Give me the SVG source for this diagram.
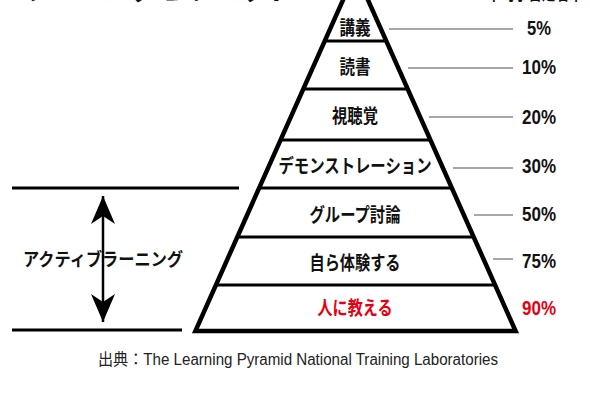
<svg xmlns="http://www.w3.org/2000/svg" width="590" height="394" viewBox="0 0 590 394">
<style>
.lbl{font-family:"Noto Sans CJK JP","Noto Sans",sans-serif;font-weight:700;font-size:19px;fill:#111;text-anchor:middle}
.pct{font-family:"Liberation Sans","Noto Sans",sans-serif;font-size:20px;font-weight:700;fill:#111;text-anchor:middle}
.red{fill:#e60012}
.lead{stroke:#8a8a8a;stroke-width:1.5;fill:none}
.div{stroke:#000;stroke-width:3;fill:none}
</style>
<defs>
<marker id="ah" markerUnits="userSpaceOnUse" markerWidth="28" markerHeight="24" refX="28" refY="12" orient="auto-start-reverse" viewBox="0 0 28 24">
<path d="M0,0 L28,12 L0,24 L8,12 Z" fill="#000"/>
</marker>
</defs>
<rect width="590" height="394" fill="#fff"/>
<g id="title">
<text x="22" y="-1.5" font-family="'Noto Sans CJK JP',sans-serif" font-weight="700" font-size="34" textLength="272" lengthAdjust="spacingAndGlyphs" fill="#111">ラーニングピラミッド</text>
<text x="487" y="-0.5" font-family="'Noto Sans CJK JP',sans-serif" font-weight="700" font-size="19" textLength="96" lengthAdjust="spacingAndGlyphs" fill="#111">平均学習定着率</text>
</g>
<g id="pyramid">
<polygon points="355.5,-28 195.4,331 515.6,331" fill="#fff" stroke="#000" stroke-width="4.5" stroke-linejoin="miter"/>
<line class="div" x1="324.7" y1="41" x2="386.3" y2="41"/>
<line class="div" x1="303.3" y1="89" x2="407.7" y2="89"/>
<line class="div" x1="280.5" y1="140" x2="430.5" y2="140"/>
<line class="div" x1="259.2" y1="188" x2="451.8" y2="188"/>
<line class="div" x1="237.3" y1="237" x2="473.7" y2="237"/>
<line class="div" x1="215.9" y1="285" x2="495.1" y2="285"/>
</g>
<g id="layer-1"><text class="lbl" x="355" y="34.5" textLength="31" lengthAdjust="spacingAndGlyphs">講義</text></g>
<g id="layer-2"><text class="lbl" x="355" y="73.5" textLength="31" lengthAdjust="spacingAndGlyphs">読書</text></g>
<g id="layer-3"><text class="lbl" x="355" y="123" textLength="46" lengthAdjust="spacingAndGlyphs">視聴覚</text></g>
<g id="layer-4"><text class="lbl" x="355" y="173" textLength="153" lengthAdjust="spacingAndGlyphs">デモンストレーション</text></g>
<g id="layer-5"><text class="lbl" x="355" y="221.5" textLength="91" lengthAdjust="spacingAndGlyphs">グループ討論</text></g>
<g id="layer-6"><text class="lbl" x="355" y="270" textLength="91" lengthAdjust="spacingAndGlyphs">自ら体験する</text></g>
<g id="layer-7"><text class="lbl red" x="355" y="315" textLength="75" lengthAdjust="spacingAndGlyphs">人に教える</text></g>
<g id="rates">
<text class="pct" x="539" y="35" textLength="24" lengthAdjust="spacingAndGlyphs">5%</text>
<text class="pct" x="539" y="74" textLength="34" lengthAdjust="spacingAndGlyphs">10%</text>
<text class="pct" x="539" y="124" textLength="34" lengthAdjust="spacingAndGlyphs">20%</text>
<text class="pct" x="539" y="173" textLength="34" lengthAdjust="spacingAndGlyphs">30%</text>
<text class="pct" x="539" y="221" textLength="34" lengthAdjust="spacingAndGlyphs">50%</text>
<text class="pct" x="539" y="268" textLength="34" lengthAdjust="spacingAndGlyphs">75%</text>
<text class="pct red" x="539" y="315" textLength="34" lengthAdjust="spacingAndGlyphs">90%</text>
</g>
<g id="connectors">
<line class="lead" x1="389" y1="29" x2="513" y2="29"/>
<line class="lead" x1="408" y1="68" x2="513" y2="68"/>
<line class="lead" x1="429" y1="117" x2="513" y2="117"/>
<line class="lead" x1="453" y1="168" x2="513" y2="168"/>
<line class="lead" x1="474" y1="215" x2="513" y2="215"/>
<line class="lead" x1="493" y1="259" x2="513" y2="259"/>
<line x1="12" y1="188" x2="239" y2="188" stroke="#000" stroke-width="3"/>
<line x1="12" y1="330" x2="182" y2="330" stroke="#000" stroke-width="3"/>
<line x1="103" y1="196" x2="103" y2="322" stroke="#000" stroke-width="2.5" marker-start="url(#ah)" marker-end="url(#ah)"/>
</g>
<g id="active-learning">
<text x="23" y="266" font-family="'Noto Sans CJK JP',sans-serif" font-weight="700" font-size="18" textLength="160" lengthAdjust="spacingAndGlyphs" fill="#111">アクティブラーニング</text>
</g>
<g id="source">
<text x="98" y="365" font-family="'Liberation Sans','Noto Sans CJK JP',sans-serif" font-size="16" textLength="400" lengthAdjust="spacingAndGlyphs" fill="#222">出典：The Learning Pyramid National Training Laboratories</text>
</g>
</svg>
